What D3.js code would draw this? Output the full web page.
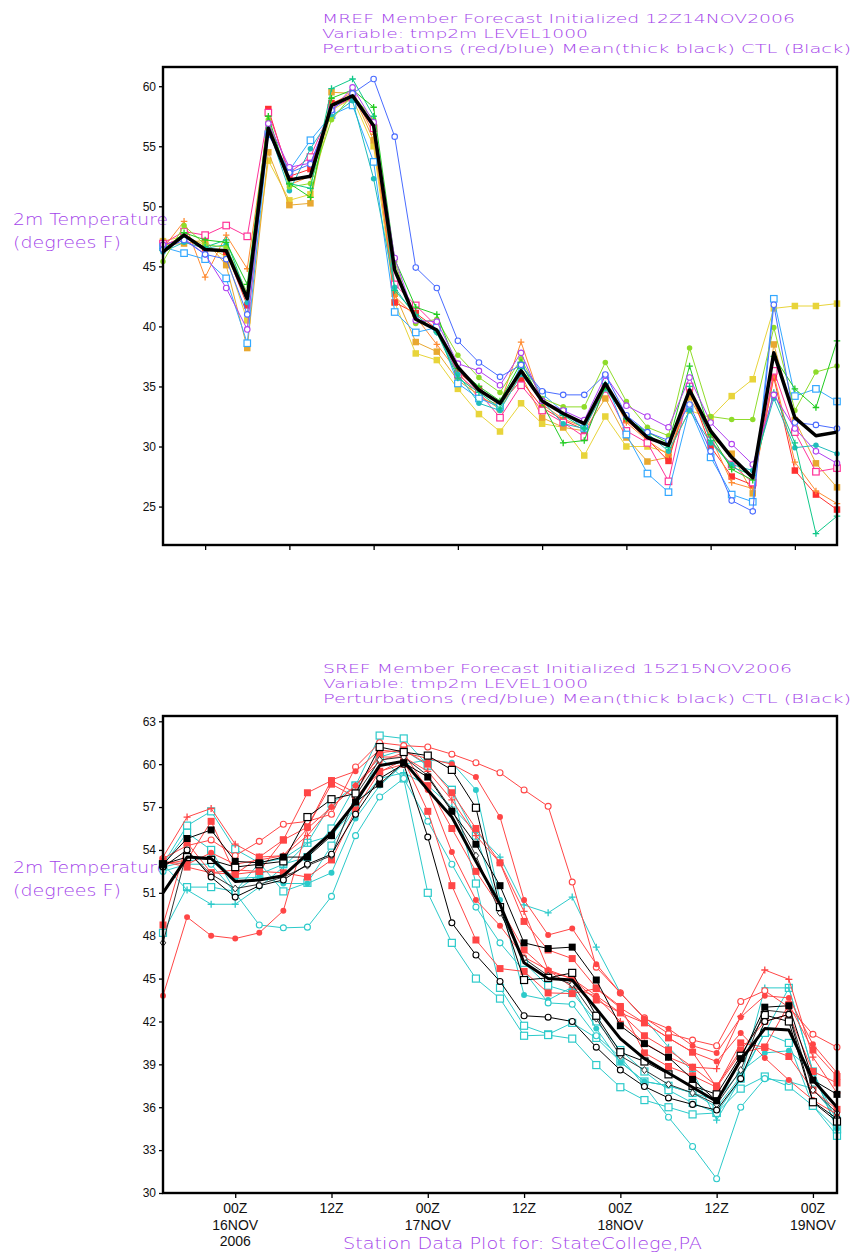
<!DOCTYPE html>
<html>
<head>
<meta charset="utf-8">
<script src="https://cdn.jsdelivr.net/npm/d3@7"></script>
<style>
  body { margin: 0; background: #fff; }
  svg { display: block; }
  text { font-family: "Liberation Sans", Arial, sans-serif; }
  text.grads { font-family: "DejaVu Sans", sans-serif; font-weight: 200; }
</style>
</head>
<body>
<svg id="chart" width="854" height="1254"></svg>
<script>
// ---------- MREF data: forecast hour from 12Z14NOV2006, every 6 h ----------
const mrefHours = [0,6,12,18,24,30,36,42,48,54,60,66,72,78,84,90,96,102,108,114,120,126,132,138,144,150,156,162,168,174,180,186,192];
const mrefMean   = [46.2,47.6,46.4,46.3,42.3,56.5,52.2,52.5,58.4,59.2,56.7,44.7,40.6,39.7,36.6,34.7,33.6,36.3,33.8,32.75,31.9,35.25,32.4,30.75,30.1,34.7,31.3,29.1,27.4,37.8,32.4,30.9,31.2];
const mrefBlue   = [46.4,47.2,46.0,45.6,41.0,56.0,52.8,53.5,58.0,59.4,60.6,55.8,44.9,43.2,38.8,37.0,35.8,36.8,34.6,34.3,34.3,36.0,32.6,31.2,30.5,33.5,29.6,25.5,24.6,41.8,32.0,31.8,31.5];
const mrefPurple = [46.8,47.3,46.0,43.2,39.75,56.9,53.25,53.6,58.0,59.9,57.0,45.7,40.5,40.4,36.9,36.3,35.1,37.8,33.8,33.0,32.2,35.9,33.4,32.5,31.6,35.75,32.0,30.2,28.5,34.3,31.5,29.6,28.6];
const mrefPink   = [46.9,47.9,47.6,48.4,47.5,57.8,52.8,54.1,58.2,59.0,56.5,43.5,41.75,40.0,36.0,34.5,32.4,35.1,33.0,32.0,30.8,34.8,31.3,30.3,27.1,35.0,30.5,28.5,27.0,36.3,31.2,27.9,28.2];
const mrefSky    = [46.6,46.1,45.6,44.0,38.6,56.0,53.0,55.5,57.6,58.4,53.7,41.2,39.5,39.9,35.25,34.0,33.3,36.75,34.4,32.9,31.5,35.5,31.0,27.75,26.2,33.2,29.1,26.0,25.4,42.3,34.2,34.8,33.75];
const mrefOrangePlus = [46.5,48.75,44.1,47.6,44.8,57.0,51.8,52.5,58.5,59.5,56.0,42.5,40.8,38.5,36.2,34.0,33.5,38.7,33.5,32.3,31.6,35.3,32.0,30.5,29.3,34.5,30.8,27.0,26.5,36.0,28.7,26.3,25.25];
const mrefGreen  = [46.3,47.8,47.2,47.0,43.5,57.5,51.9,50.75,59.0,59.7,58.25,45.6,41.6,41.0,36.5,35.0,33.8,37.0,33.6,30.3,30.5,35.0,32.3,31.2,30.3,36.7,31.0,28.1,27.2,37.5,34.8,33.25,38.8];
const mrefLime   = [45.4,48.4,46.8,46.6,42.8,57.2,51.6,51.9,57.2,59.3,57.2,45.4,40.25,40.6,37.6,35.75,34.5,37.3,34.0,33.3,33.3,37.0,33.75,31.6,30.9,38.2,32.5,32.25,32.25,39.9,33.0,36.2,36.7];
const mrefTeal   = [46.2,47.0,46.5,46.8,42.0,56.5,51.3,54.8,57.5,58.8,52.3,43.25,40.8,39.5,36.0,33.6,33.0,36.0,33.8,31.9,31.5,34.8,32.4,31.1,29.6,33.0,30.3,28.5,28.0,34.0,29.9,30.1,29.4];
const mrefYellow = [47.1,47.5,46.8,45.8,40.5,53.8,50.5,51.0,58.0,59.0,55.0,42.0,37.75,37.2,34.8,32.7,31.25,33.6,31.9,31.6,29.25,32.5,30.0,30.0,29.5,33.0,32.4,34.2,35.6,41.5,41.7,41.7,41.9];
const mrefOrange = [46.8,46.9,47.2,45.1,38.2,54.5,50.1,50.25,59.5,59.4,55.5,42.75,38.7,37.9,35.5,34.3,33.1,36.0,32.4,31.6,31.3,34.0,30.75,28.75,29.1,34.1,30.8,29.4,26.1,38.5,32.2,28.6,26.6];
const mrefRed    = [46.7,47.5,46.5,46.2,41.75,58.1,52.5,53.1,58.6,59.2,56.8,42.0,41.1,39.8,36.2,34.8,33.5,35.5,33.25,32.2,31.4,35.0,32.2,30.6,28.8,34.8,30.0,27.5,26.8,35.75,28.0,26.0,24.75];
const mrefSea    = [46.5,47.4,46.6,47.2,42.5,56.8,51.9,51.5,59.8,60.6,57.5,43.0,41.0,39.5,35.7,34.5,33.2,36.5,33.9,32.6,31.5,35.2,32.5,31.0,29.9,35.0,30.5,28.3,27.6,34.5,30.3,22.75,24.2];
const mrefYTicks = [25, 30, 35, 40, 45, 50, 55, 60];
const mrefXTicks = [12, 36, 60, 84, 108, 132, 156, 180];

// ---------- SREF data: forecast hour from 15Z15NOV2006, every 3 h ----------
const srefHours = [0,3,6,9,12,15,18,21,24,27,30,33,36,39,42,45,48,51,54,57,60,63,66,69,72,75,78,81,84];
const srefMean  = [51.0,53.5,53.4,51.8,51.9,52.2,53.7,55.2,57.35,59.9,60.2,58.2,56.3,53.2,50.2,46.1,45.0,44.9,42.9,40.8,39.4,38.4,37.4,36.4,39.3,41.5,41.4,37.9,36.0];
const ctlFilledSq = [53.0,54.8,55.4,53.2,53.1,53.5,53.5,55.0,57.35,58.6,60.1,59.1,56.7,54.4,51.5,47.5,47.1,47.2,44.9,41.7,40.45,39.5,37.95,36.45,39.4,43.0,43.1,37.9,36.9];
const ctlOpenSq   = [53.0,53.5,53.3,52.8,53.0,53.2,56.3,57.55,57.95,61.2,60.85,60.6,59.6,56.95,50.0,44.9,45.05,45.4,42.4,39.85,39.2,38.3,37.5,36.9,39.6,42.45,42.0,36.35,35.0];
const ctlOpenCi   = [52.8,54.0,52.1,50.7,51.5,51.9,53.0,53.7,56.5,59.0,60.0,54.9,48.9,46.65,44.8,42.4,42.3,42.0,40.2,38.6,37.45,36.65,36.2,35.8,38.0,42.0,42.5,36.4,35.2];
const redOpenCi   = [53.4,54.3,54.7,53.6,54.6,55.8,56.0,56.5,59.8,61.5,61.3,61.2,60.7,60.1,59.4,58.2,57.05,51.75,45.8,44.0,42.25,41.15,40.7,40.3,43.4,44.15,43.0,41.1,40.2];
const redFilledCiA = [53.2,53.0,53.8,53.0,53.3,53.6,55.5,57.0,58.5,60.2,60.8,60.4,60.0,59.1,56.3,50.5,48.05,48.5,46.0,44.0,42.2,41.5,40.3,39.8,42.3,43.8,43.65,40.4,38.4];
const redFilledSqA = [48.75,54.5,52.4,52.6,52.5,54.7,55.6,58.6,57.7,59.45,60.3,56.7,51.5,47.7,45.7,45.5,44.0,43.95,44.3,42.95,41.9,40.85,39.85,37.4,40.5,40.2,39.55,37.2,35.85];
const redFilledCiB = [43.8,49.3,48.0,47.8,48.2,49.75,55.6,58.9,59.5,61.0,60.8,58.2,53.85,50.5,48.7,46.5,45.6,45.0,43.8,42.6,41.9,40.85,39.85,39.2,41.2,39.45,37.9,36.5,35.5];
const redPlus     = [53.5,56.3,56.9,54.4,53.5,53.6,55.0,57.0,58.5,60.5,60.5,59.5,57.5,55.0,53.1,49.7,45.6,44.4,43.75,42.0,40.5,39.5,38.8,38.7,42.35,45.6,44.95,39.5,37.0];
const redFilledSqB = [53.0,53.3,56.0,52.3,53.5,54.7,58.0,58.85,58.0,60.8,61.0,60.0,58.0,55.5,53.1,49.0,47.0,46.4,44.35,43.05,39.8,38.85,38.2,37.4,39.8,40.2,43.2,40.0,38.15];
const redFilledSqC = [53.2,52.8,52.4,52.3,52.5,52.4,52.1,53.3,56.8,59.5,60.0,58.5,55.5,52.5,50.0,47.0,45.5,45.0,43.5,42.6,41.0,40.0,38.8,37.5,40.0,42.0,42.5,38.5,37.7];
const cyanOpenSqA = [53.0,55.7,56.7,54.05,53.1,53.4,54.5,57.25,58.5,62.0,61.8,59.9,58.2,51.65,44.35,41.7,41.1,41.9,40.85,39.2,37.8,37.5,37.0,36.0,38.15,41.2,44.35,38.5,34.45];
const cyanOpenSqB = [48.2,51.4,51.4,51.1,53.1,51.1,51.7,54.3,57.0,60.5,59.0,51.0,47.5,45.0,43.6,41.0,41.05,40.8,38.95,37.4,36.5,36.0,35.5,35.6,37.3,38.15,37.45,36.1,34.0];
const cyanFilledCi = [52.8,53.2,53.5,52.0,52.1,51.65,51.65,52.4,56.2,58.5,60.0,60.3,60.1,58.2,50.5,43.85,43.5,44.4,41.5,39.15,37.8,37.5,37.0,36.5,38.5,39.8,39.95,38.5,34.5];
const cyanPlus    = [53.0,51.2,50.2,50.2,51.4,52.8,54.5,55.0,57.0,59.0,59.4,58.5,57.0,55.25,53.5,50.15,49.6,50.7,47.2,44.0,42.2,40.2,38.5,35.1,38.0,44.35,44.35,38.5,35.0];
const cyanOpenCi  = [52.5,53.0,53.0,51.0,48.75,48.55,48.6,50.75,55.0,57.7,59.0,56.0,53.0,50.0,47.5,45.5,43.3,43.2,41.0,39.5,37.5,35.3,33.25,31.0,36.0,38.0,37.8,37.3,35.3];
const cyanOpenSqC = [52.9,55.2,54.0,51.1,52.3,53.0,53.5,55.5,58.5,60.5,61.0,59.9,58.2,55.0,50.0,46.1,44.5,44.0,42.0,40.0,38.5,37.2,36.3,35.6,38.0,41.2,40.5,36.1,34.45];
const ctlDiamond  = [47.5,53.9,52.3,51.3,51.6,52.1,52.9,53.6,57.8,60.3,60.5,59.2,56.8,53.6,49.6,46.4,45.2,44.6,42.2,39.6,38.6,37.6,37.0,36.2,38.6,42.8,42.6,37.2,35.6];
const srefYTicks = [30, 33, 36, 39, 42, 45, 48, 51, 54, 57, 60, 63];
const srefXTicks = [9, 21, 33, 45, 57, 69, 81];
const srefXLabels = [["00Z","16NOV","2006"], ["12Z"], ["00Z","17NOV"], ["12Z"], ["00Z","18NOV"], ["12Z"], ["00Z","19NOV"]];

const purple = "#a444ea";
const RED = "#ff4646", CYAN = "#2ccaca";

const svg = d3.select("#chart");

function drawMarker(g, type, x, y, color, s) {
    let h = s / 2;
    if (type === "sq" || type === "osq") {
        let r = g.append("rect")
            .attr("x", x - h).attr("y", y - h)
            .attr("width", s).attr("height", s);
        if (type === "sq") r.attr("fill", color);
        else r.attr("fill", "#fff").attr("stroke", color).attr("stroke-width", 1.2);
    } else if (type === "ci" || type === "oci") {
        let c = g.append("circle").attr("cx", x).attr("cy", y).attr("r", h * 0.85);
        if (type === "ci") c.attr("fill", color);
        else c.attr("fill", "#fff").attr("stroke", color).attr("stroke-width", 1.1);
    } else if (type === "odia") {
        g.append("path")
            .attr("d", "M" + x + "," + (y - h) + "L" + (x + h * 0.8) + "," + y + "L" + x + "," + (y + h) + "L" + (x - h * 0.8) + "," + y + "Z")
            .attr("fill", "#fff").attr("stroke", color).attr("stroke-width", 1);
    } else if (type === "plus") {
        g.append("path")
            .attr("d", "M" + (x - h) + "," + y + "H" + (x + h) + "M" + x + "," + (y - h) + "V" + (y + h))
            .attr("stroke", color).attr("stroke-width", 1.3);
    }
}

// three stacked title lines, tightly spaced like the GrADS original
function drawTitle(lines, x, y0, widths) {
    lines.forEach(function (t, i) {
        svg.append("text").attr("class", "grads")
            .attr("x", x).attr("y", y0 + i * 15)
            .attr("fill", purple)
            .attr("font-size", 12.8)
            .attr("textLength", widths[i])
            .attr("lengthAdjust", "spacingAndGlyphs")
            .text(t);
    });
}

function drawPanel(p) {
    let x = d3.scaleLinear().domain(p.xDomain).range([p.left, p.right]);
    let y = d3.scaleLinear().domain(p.yDomain).range([p.bottom, p.top]);
    let g = svg.append("g");

    // y axis
    let yAxis = d3.axisLeft(y).tickValues(p.yTicks).tickSize(4).tickPadding(3);
    let ya = g.append("g").attr("transform", "translate(" + p.left + ",0)").call(yAxis);
    ya.select(".domain").remove();
    ya.selectAll("line").attr("stroke-width", 1.3);
    ya.selectAll("text").attr("font-size", 12).attr("fill", "#111")
        .style("font-family", "'Liberation Sans', Arial, sans-serif");

    // x axis
    let xAxis = d3.axisBottom(x).tickValues(p.xTicks).tickSize(5).tickFormat("");
    let xa = g.append("g").attr("transform", "translate(0," + p.bottom + ")").call(xAxis);
    xa.select(".domain").remove();
    xa.selectAll("line").attr("stroke-width", 1.3);
    if (p.xLabels) {
        p.xTicks.forEach(function (h, i) {
            let t = g.append("text").attr("text-anchor", "middle")
                .attr("font-size", 14).attr("fill", "#111");
            p.xLabels[i].forEach(function (s, k) {
                t.append("tspan").attr("x", x(h)).attr("y", p.bottom + 20 + k * 16.5).text(s);
            });
        });
    }

    // axis title
    g.append("text").attr("class", "grads").attr("x", 13).attr("y", p.labelY).attr("fill", purple)
        .attr("font-size", 16).attr("textLength", 155).attr("lengthAdjust", "spacingAndGlyphs")
        .text("2m Temperature");
    g.append("text").attr("class", "grads").attr("x", 13).attr("y", p.labelY + 23).attr("fill", purple)
        .attr("font-size", 16).attr("textLength", 108).attr("lengthAdjust", "spacingAndGlyphs")
        .text("(degrees F)");

    // members
    let line = d3.line()
        .x(function (d, i) { return x(p.hours[i]); })
        .y(function (d) { return y(d); });
    p.members.forEach(function (m) {
        g.append("path").datum(m.values)
            .attr("d", line)
            .attr("fill", "none")
            .attr("stroke", m.color)
            .attr("stroke-width", 1);
        let mg = g.append("g");
        m.values.forEach(function (v, i) {
            drawMarker(mg, m.mark, x(p.hours[i]), y(v), m.color, p.markSize);
        });
    });

    // ensemble mean
    g.append("path").datum(p.mean)
        .attr("d", line)
        .attr("fill", "none")
        .attr("stroke", "#000")
        .attr("stroke-width", p.meanWidth)
        .attr("stroke-linejoin", "round");

    // frame
    g.append("rect")
        .attr("x", p.left).attr("y", p.top)
        .attr("width", p.right - p.left).attr("height", p.bottom - p.top)
        .attr("fill", "none").attr("stroke", "#000").attr("stroke-width", 2.4);
}

// ---------- top panel ----------
drawTitle(["MREF Member Forecast Initialized 12Z14NOV2006",
           "Variable: tmp2m LEVEL1000",
           "Perturbations (red/blue) Mean(thick black) CTL (Black)"],
          322, 23, [473, 266, 529]);

drawPanel({
    hours: mrefHours,
    xDomain: [0, 192], yDomain: [21.8, 61.6],
    left: 163, right: 837, top: 67, bottom: 545,
    yTicks: mrefYTicks, xTicks: mrefXTicks,
    labelY: 225, markSize: 6.5, meanWidth: 3.5,
    mean: mrefMean,
    members: [
        {values: mrefYellow, color: "#e8d43a", mark: "sq"},
        {values: mrefOrange, color: "#e8a830", mark: "sq"},
        {values: mrefRed, color: "#ff3030", mark: "sq"},
        {values: mrefOrangePlus, color: "#ff8c33", mark: "plus"},
        {values: mrefPink, color: "#ff3399", mark: "osq"},
        {values: mrefSky, color: "#33a8ff", mark: "osq"},
        {values: mrefTeal, color: "#20bcbc", mark: "ci"},
        {values: mrefLime, color: "#8fdc2a", mark: "ci"},
        {values: mrefSea, color: "#10c88a", mark: "plus"},
        {values: mrefGreen, color: "#22cc22", mark: "plus"},
        {values: mrefPurple, color: "#b040f0", mark: "oci"},
        {values: mrefBlue, color: "#4a6cff", mark: "oci"}
    ]
});

// ---------- bottom panel ----------
drawTitle(["SREF Member Forecast Initialized 15Z15NOV2006",
           "Variable: tmp2m LEVEL1000",
           "Perturbations (red/blue) Mean(thick black) CTL (Black)"],
          323, 673, [469, 265, 528]);

drawPanel({
    hours: srefHours,
    xDomain: [0, 84], yDomain: [30, 63.37],
    left: 163, right: 837, top: 716, bottom: 1193,
    yTicks: srefYTicks, xTicks: srefXTicks, xLabels: srefXLabels,
    labelY: 873, markSize: 7, meanWidth: 3,
    mean: srefMean,
    members: [
        {values: cyanOpenSqA, color: CYAN, mark: "osq"},
        {values: cyanOpenSqB, color: CYAN, mark: "osq"},
        {values: cyanOpenSqC, color: CYAN, mark: "osq"},
        {values: cyanFilledCi, color: CYAN, mark: "ci"},
        {values: cyanPlus, color: CYAN, mark: "plus"},
        {values: cyanOpenCi, color: CYAN, mark: "oci"},
        {values: redOpenCi, color: RED, mark: "oci"},
        {values: redFilledCiA, color: RED, mark: "ci"},
        {values: redFilledCiB, color: RED, mark: "ci"},
        {values: redFilledSqA, color: RED, mark: "sq"},
        {values: redFilledSqB, color: RED, mark: "sq"},
        {values: redFilledSqC, color: RED, mark: "sq"},
        {values: redPlus, color: RED, mark: "plus"},
        {values: ctlDiamond, color: "#333", mark: "odia"},
        {values: ctlOpenCi, color: "#000", mark: "oci"},
        {values: ctlOpenSq, color: "#000", mark: "osq"},
        {values: ctlFilledSq, color: "#000", mark: "sq"}
    ]
});

svg.append("text").attr("class", "grads")
    .attr("x", 343).attr("y", 1249)
    .attr("fill", purple).attr("font-size", 16)
    .attr("textLength", 359).attr("lengthAdjust", "spacingAndGlyphs")
    .text("Station Data Plot for: StateCollege,PA");
</script>
</body>
</html>
